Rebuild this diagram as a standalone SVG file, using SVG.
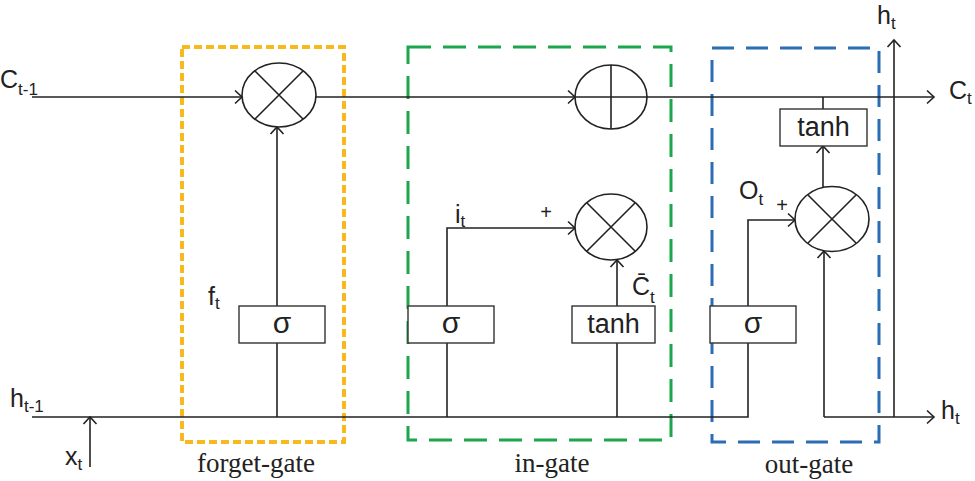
<svg xmlns="http://www.w3.org/2000/svg" width="975" height="481" viewBox="0 0 975 481">
<defs>
<marker id="arr" viewBox="-10 -8 12 16" refX="0" refY="0" markerWidth="12" markerHeight="16" markerUnits="userSpaceOnUse" orient="auto">
<path d="M-7,-6.5 L0,0 L-7,6.5" fill="none" stroke="#222" stroke-width="1.6"/>
</marker>
</defs>
<style>
.ln{fill:none;stroke:#222;stroke-width:1.6}
.op{fill:#fff;stroke:#222;stroke-width:1.6}
.box{fill:#fff;stroke:#333;stroke-width:1.4}
.lbl{font-family:"Liberation Sans",Arial,sans-serif;font-size:25px;fill:#222}
.sub{font-size:17px}
.fn{font-family:"Liberation Sans",Arial,sans-serif;font-size:27px;fill:#222;text-anchor:middle}
.sg{font-size:30px}
.gate{font-family:"Liberation Serif","Times New Roman",serif;font-size:27px;fill:#222;text-anchor:middle}
.pl{font-family:"Liberation Sans",Arial,sans-serif;font-size:20px;fill:#222;text-anchor:middle}
</style>
<rect width="975" height="481" fill="#fff"/>

<g id="forget-gate">
<rect x="182" y="47" width="162" height="395" fill="none" stroke="#F7B91E" stroke-width="4" stroke-dasharray="8 4"/>
<text class="gate" x="256" y="472">forget-gate</text>
</g>
<g id="in-gate">
<rect x="408" y="47" width="263" height="393" fill="none" stroke="#1DA64B" stroke-width="3" stroke-dasharray="23 12"/>
<text class="gate" x="552" y="472">in-gate</text>
</g>
<g id="out-gate">
<rect x="712" y="48" width="167" height="394" fill="none" stroke="#2B6DB2" stroke-width="3" stroke-dasharray="22 12"/>
<text class="gate" x="809" y="473">out-gate</text>
</g>

<g id="connectors">
<path class="ln" d="M32,97 H242" marker-end="url(#arr)"/>
<path class="ln" d="M316,97 H575" marker-end="url(#arr)"/>
<path class="ln" d="M646,97 H934" marker-end="url(#arr)"/>
<path class="ln" d="M823,97 V109"/>
<path class="ln" d="M823,187 V146" marker-end="url(#arr)"/>
<path class="ln" d="M32,417 H748 V343"/>
<path class="ln" d="M748,306 V220 H795" marker-end="url(#arr)"/>
<path class="ln" d="M90,467 V417" marker-end="url(#arr)"/>
<path class="ln" d="M277,417 V343"/>
<path class="ln" d="M277,306 V127" marker-end="url(#arr)"/>
<path class="ln" d="M447,417 V343"/>
<path class="ln" d="M447,306 V228 H575" marker-end="url(#arr)"/>
<path class="ln" d="M617,417 V343"/>
<path class="ln" d="M617,306 V260" marker-end="url(#arr)"/>
<path class="ln" d="M824,417 V251" marker-end="url(#arr)"/>
<path class="ln" d="M824,417 H934" marker-end="url(#arr)"/>
<path class="ln" d="M894,417 V40" marker-end="url(#arr)"/>
</g>

<g id="mul-forget">
<ellipse class="op" cx="279" cy="95" rx="37" ry="32"/>
<path class="ln" d="M255,71 L303,119 M303,71 L255,119"/>
</g>
<g id="add-cell">
<ellipse class="op" cx="611" cy="97" rx="36" ry="32"/>
<path class="ln" d="M611,65 V129 M575,97 H647"/>
</g>
<g id="mul-in">
<ellipse class="op" cx="611" cy="227" rx="36" ry="33"/>
<path class="ln" d="M587,203 L635,251 M635,203 L587,251"/>
</g>
<g id="mul-out">
<ellipse class="op" cx="832" cy="219" rx="37" ry="32.5"/>
<path class="ln" d="M808,195 L856,243 M856,195 L808,243"/>
</g>

<g id="sigma-forget">
<rect class="box" x="239" y="306" width="86" height="37"/>
<text class="fn sg" x="282" y="333">σ</text>
</g>
<g id="sigma-in">
<rect class="box" x="408" y="306" width="86" height="37"/>
<text class="fn sg" x="451" y="333">σ</text>
</g>
<g id="tanh-in">
<rect class="box" x="572" y="306" width="83" height="37"/>
<text class="fn" x="613.5" y="333">tanh</text>
</g>
<g id="sigma-out">
<rect class="box" x="710" y="306" width="86" height="37"/>
<text class="fn sg" x="753" y="333">σ</text>
</g>
<g id="tanh-out">
<rect class="box" x="780" y="109" width="87" height="37"/>
<text class="fn" x="823.5" y="136">tanh</text>
</g>

<g id="labels">
<text class="lbl" x="0" y="88">C<tspan class="sub" dy="7">t-1</tspan></text>
<text class="lbl" x="10" y="407">h<tspan class="sub" dy="5">t-1</tspan></text>
<text class="lbl" x="65" y="465">x<tspan class="sub" dy="5">t</tspan></text>
<text class="lbl" x="208" y="305">f<tspan class="sub" dy="4">t</tspan></text>
<text class="lbl" x="455" y="223">i<tspan class="sub" dy="4">t</tspan></text>
<text class="pl" x="546" y="219">+</text>
<text class="lbl" x="632" y="295">C̄<tspan class="sub" dy="8">t</tspan></text>
<text class="lbl" x="739" y="199">O<tspan class="sub" dy="6">t</tspan></text>
<text class="pl" x="782" y="212">+</text>
<text class="lbl" x="877" y="24">h<tspan class="sub" dy="5">t</tspan></text>
<text class="lbl" x="949" y="99">C<tspan class="sub" dy="5">t</tspan></text>
<text class="lbl" x="941" y="419">h<tspan class="sub" dy="5">t</tspan></text>
</g>
</svg>
